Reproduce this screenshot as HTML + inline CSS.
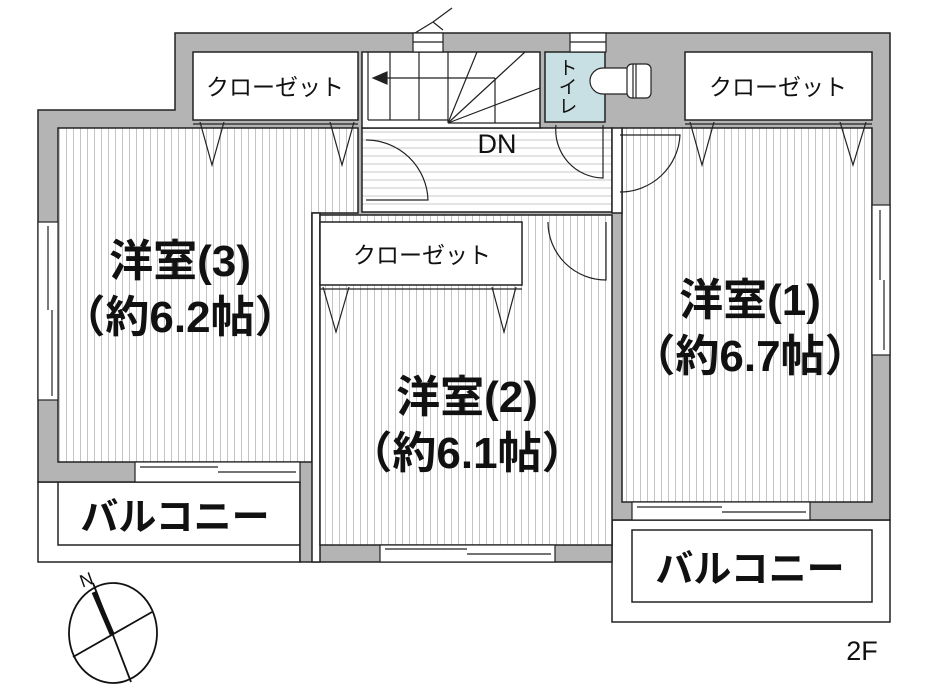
<!DOCTYPE html>
<html><head><meta charset="utf-8"><style>
html,body{margin:0;padding:0;background:#fff;}
svg{display:block;}
text{font-family:"Liberation Sans","Noto Sans CJK JP",sans-serif;}
</style></head><body>
<svg width="926" height="688" viewBox="0 0 926 688" xmlns="http://www.w3.org/2000/svg">
<defs>
<pattern id="vs" width="7" height="10" patternUnits="userSpaceOnUse">
<rect width="7" height="10" fill="#fff"/><line x1="3.5" y1="0" x2="3.5" y2="10" stroke="#c4c4c4" stroke-width="1"/>
</pattern>
<pattern id="hs" width="10" height="8" patternUnits="userSpaceOnUse">
<rect width="10" height="8" fill="#fff"/><line x1="0" y1="4" x2="10" y2="4" stroke="#c8c8c8" stroke-width="1"/>
</pattern>
</defs>
<g stroke="#222" stroke-width="1.5">
<rect x="38" y="482" width="262" height="80" fill="#fff"/>
<rect x="58" y="482" width="242" height="63" fill="#fff"/>
<rect x="612" y="520" width="278" height="102" fill="#fff"/>
<rect x="632" y="530" width="240" height="72" fill="#fff"/>
<path d="M175 33 H890 V520 H612 V562 H300 V482 H38 V110 H175 Z" fill="#b4b4b4"/>
<path d="M58 128 H358 V213 H312 V462 H58 Z" fill="url(#vs)"/>
<rect x="312" y="213" width="8" height="349" fill="#fff"/>
<rect x="320" y="215" width="292" height="330" fill="url(#vs)"/>
<rect x="622" y="128" width="250" height="374" fill="url(#vs)"/>
<rect x="362" y="128" width="250" height="84" fill="url(#hs)"/>
<rect x="612" y="128" width="10" height="85" fill="#fff"/>
<rect x="193" y="52" width="165" height="68" fill="#fff"/>
<rect x="685" y="52" width="187" height="68" fill="#fff"/>
<rect x="320" y="222" width="202" height="63" fill="#fff"/>
<rect x="362" y="52" width="178" height="76" fill="#fff"/>
<rect x="545" y="52" width="60" height="70" fill="#c8e0e4"/>
</g>
<g stroke="#222" stroke-width="1.2" fill="none">
<line x1="368" y1="52" x2="368" y2="120"/>
<line x1="390" y1="52" x2="390" y2="120"/>
<line x1="419" y1="52" x2="419" y2="120"/>
<line x1="448" y1="52" x2="448" y2="123"/>
<line x1="368" y1="120" x2="448" y2="120"/>
<line x1="448" y1="123" x2="540" y2="123"/>
<line x1="448" y1="123" x2="477" y2="52"/>
<line x1="448" y1="123" x2="525" y2="52"/>
<line x1="448" y1="123" x2="540" y2="88"/>
<line x1="380" y1="78" x2="495" y2="78"/>
<path d="M373 78 L387 72 L387 84 Z" fill="#222"/>
<line x1="495" y1="78" x2="495" y2="123"/>
<rect x="413" y="33" width="30" height="19" fill="#fff"/>
<line x1="413" y1="42" x2="443" y2="42"/>
<path d="M415 33 L433 22 L443 30 M433 22 L452 8"/>
<rect x="570" y="33" width="36" height="19" fill="#fff"/>
<line x1="570" y1="42" x2="606" y2="42"/>
<path d="M366 140 A62 62 0 0 1 428 200 L366 200"/>
<path d="M556 125 A48 48 0 0 0 603 178 V125"/>
<path d="M620 135 H680 A60 60 0 0 1 620 192"/>
<path d="M548 222 A58 58 0 0 0 606 280 V222"/>
<path d="M200 122 L212 165 L224 122 M330 122 L342 165 L354 122"/>
<path d="M690 122 L702 165 L714 122 M840 122 L853 165 L866 122"/>
<path d="M323 287 L336 332 L349 287 M492 287 L504 332 L516 287"/>
<line x1="193" y1="124" x2="358" y2="124"/>
<line x1="685" y1="124" x2="872" y2="124"/>
<line x1="320" y1="289" x2="522" y2="289"/>
<path d="M627 68 H603 A13 13 0 0 0 603 94 H627" fill="#fff"/>
<rect x="627" y="64" width="24" height="34" rx="5" fill="#fff"/>
<line x1="633" y1="64" x2="633" y2="98"/>
<line x1="636" y1="64" x2="636" y2="98"/>
</g>
<g stroke="#222" stroke-width="1.2" fill="#fff">
<rect x="135" y="462" width="165" height="20"/>
<line x1="140" y1="467" x2="218" y2="467"/><line x1="218" y1="472" x2="296" y2="472"/>
<rect x="380" y="545" width="175" height="17"/>
<line x1="385" y1="549" x2="467" y2="549"/><line x1="467" y1="554" x2="551" y2="554"/>
<rect x="632" y="502" width="178" height="18"/>
<line x1="637" y1="507" x2="722" y2="507"/><line x1="722" y1="512" x2="806" y2="512"/>
<rect x="38" y="222" width="20" height="178"/>
<line x1="48" y1="226" x2="48" y2="310"/><line x1="52" y1="310" x2="52" y2="396"/>
<rect x="872" y="205" width="18" height="150"/>
<line x1="880" y1="210" x2="880" y2="280"/><line x1="884" y1="280" x2="884" y2="350"/>
</g>
<g fill="#111">
<text x="275" y="95" font-size="23" text-anchor="middle">クローゼット</text>
<text x="778" y="95" font-size="23" text-anchor="middle">クローゼット</text>
<text x="422" y="263" font-size="23" text-anchor="middle">クローゼット</text>
<text x="497" y="153" font-size="27" text-anchor="middle">DN</text>
<text x="566" y="58" font-size="19" writing-mode="tb">トイレ</text>
<text x="180" y="276" font-size="44" font-weight="bold" text-anchor="middle">洋室(3)</text>
<text x="180" y="332" font-size="44" font-weight="bold" text-anchor="middle">（約6.2帖）</text>
<text x="467" y="412" font-size="44" font-weight="bold" text-anchor="middle">洋室(2)</text>
<text x="467" y="468" font-size="44" font-weight="bold" text-anchor="middle">（約6.1帖）</text>
<text x="750" y="315" font-size="44" font-weight="bold" text-anchor="middle">洋室(1)</text>
<text x="750" y="371" font-size="44" font-weight="bold" text-anchor="middle">（約6.7帖）</text>
<text x="175" y="530" font-size="38" font-weight="bold" text-anchor="middle">バルコニー</text>
<text x="750" y="582" font-size="38" font-weight="bold" text-anchor="middle">バルコニー</text>
<text x="862" y="660" font-size="27" text-anchor="middle">2F</text>
</g>
<g stroke="#111" fill="none" stroke-width="1.8">
<ellipse cx="113" cy="633" rx="44" ry="50"/>
<line x1="93" y1="583" x2="131" y2="682"/>
<line x1="73" y1="657" x2="152" y2="612"/>
<line x1="94" y1="592" x2="112" y2="634" stroke-width="5"/>
</g>
<text x="80" y="586" font-size="18" fill="#111" transform="rotate(-20 86 580)">N</text>
</svg>
</body></html>
